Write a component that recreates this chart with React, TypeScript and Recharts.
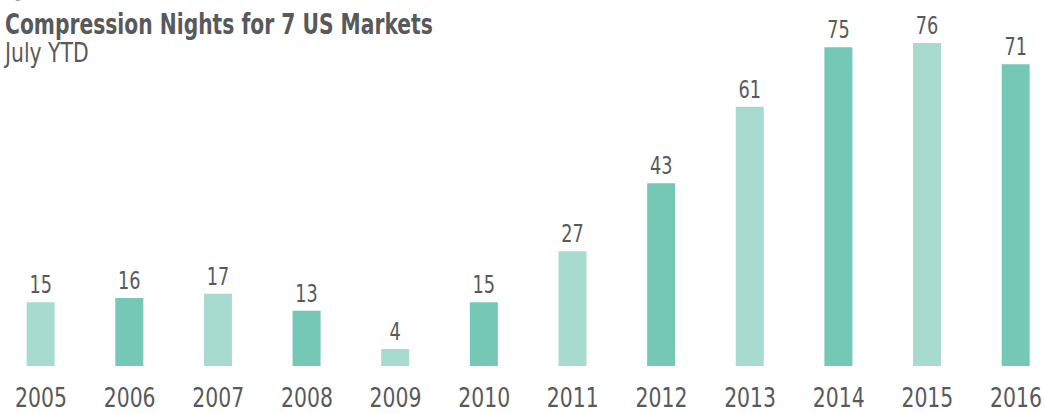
import { Bar, BarChart, Cell, LabelList, XAxis, YAxis } from 'recharts';

const years = [2005, 2006, 2007, 2008, 2009, 2010, 2011, 2012, 2013, 2014, 2015, 2016];
const nights = [15, 16, 17, 13, 4, 15, 27, 43, 61, 75, 76, 71];
const shades = ['#a7dbcf', '#75c8b5'];

const data = years.map((year, i) => ({ year, nights: nights[i] }));

const FONT = '"DejaVu Sans Condensed", "DejaVu Sans", sans-serif';
const INK = '#58595b';

// the original face is narrower than anything installed, so squeeze horizontally
function YearTick({ x, y, payload }: any) {
  return (
    <text
      transform={`translate(${x},${y}) scale(0.84,1)`}
      textAnchor="middle"
      dy="0.71em"
      fontSize={27}
      fill={INK}
      fontFamily={FONT}
    >
      {payload.value}
    </text>
  );
}

function ValueLabel({ x, y, width, value }: any) {
  const cx = x + width / 2;
  return (
    <text
      transform={`translate(${cx},${y - 9}) scale(0.82,1)`}
      textAnchor="middle"
      fontSize={24}
      fill={INK}
      fontFamily={FONT}
    >
      {value}
    </text>
  );
}

export default function App() {
  return (
    <div style={{ position: 'absolute', left: 0, top: 0, width: 1044, height: 413, fontFamily: FONT, overflow: 'hidden' }}>
      <div
        style={{
          position: 'absolute',
          left: 5,
          top: -17,
          fontSize: 16,
          color: '#a0a0a0',
          lineHeight: '20px',
          transform: 'scaleX(0.84)',
          transformOrigin: 'left',
        }}
      >
        Figure 1
      </div>
      <div
        style={{
          position: 'absolute',
          left: 5,
          top: 9,
          fontSize: 28,
          fontWeight: 700,
          color: INK,
          lineHeight: '32px',
          whiteSpace: 'nowrap',
          transform: 'scaleX(0.805)',
          transformOrigin: 'left',
        }}
      >
        Compression Nights for 7 US Markets
      </div>
      <div
        style={{
          position: 'absolute',
          left: 5,
          top: 38,
          fontSize: 26,
          color: INK,
          lineHeight: '30px',
          whiteSpace: 'nowrap',
          transform: 'scaleX(0.87)',
          transformOrigin: 'left',
        }}
      >
        July YTD
      </div>
      <BarChart width={1044} height={413} data={data} margin={{ top: 26, right: 0, bottom: 0, left: 0 }}>
        <XAxis
          dataKey="year"
          type="number"
          domain={[2005, 2016]}
          ticks={years}
          interval={0}
          padding={{ left: 41, right: 28 }}
          height={47}
          axisLine={false}
          tickLine={false}
          tickSize={0}
          tickMargin={22}
          tick={<YearTick />}
        />
        <YAxis hide domain={[0, 80]} />
        <Bar dataKey="nights" barSize={28} isAnimationActive={false}>
          {data.map((d, i) => (
            <Cell key={d.year} fill={shades[i % 2]} />
          ))}
          <LabelList dataKey="nights" content={<ValueLabel />} />
        </Bar>
      </BarChart>
    </div>
  );
}
